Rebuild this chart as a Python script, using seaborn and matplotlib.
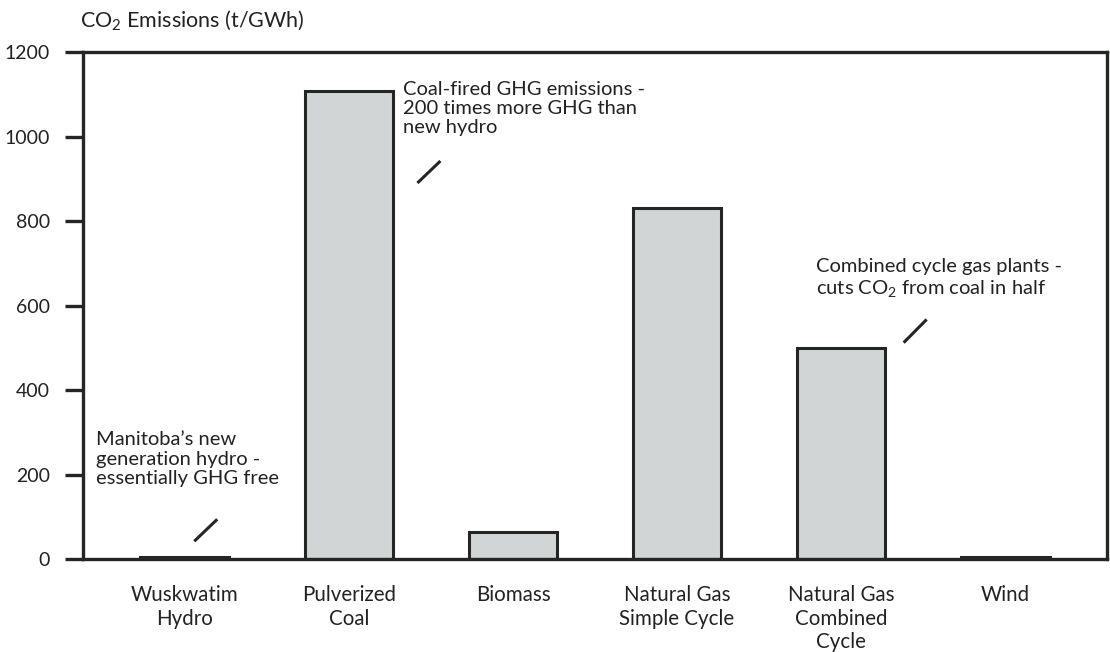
import matplotlib
matplotlib.use("Agg")
import matplotlib.pyplot as plt
import seaborn as sns
import pandas as pd

categories = ["Wuskwatim\nHydro", "Pulverized\nCoal", "Biomass",
              "Natural Gas\nSimple Cycle", "Natural Gas\nCombined\nCycle", "Wind"]
emissions = [5, 1108, 63, 831, 500, 5]
y_ticks = [0, 200, 400, 600, 800, 1000, 1200]

sns.set_theme(style="white")
plt.rcParams["font.family"] = ["Lato", "DejaVu Sans"]
plt.rcParams["mathtext.fontset"] = "custom"
plt.rcParams["mathtext.rm"] = "Lato"

TXT = "#222222"
EDGE = "#242624"
FILL = "#d1d5d6"

df = pd.DataFrame({"cat": categories, "val": emissions})

fig = plt.figure(figsize=(11.10, 6.52), dpi=100)
ax = fig.add_axes([83/1110, 1 - 559/652, (1107 - 83)/1110, (559 - 52)/652])

sns.barplot(data=df, x="cat", y="val", ax=ax, color=FILL, width=0.54,
            edgecolor=EDGE, linewidth=2.2, saturation=1)

ax.set_xlim(-0.62, 5.62)
ax.set_ylim(0, 1200)
ax.set_yticks(y_ticks)
ax.set_yticklabels([str(t) for t in y_ticks])
ax.set_xlabel("")
ax.set_ylabel("")

for s in ax.spines.values():
    s.set_visible(True)
    s.set_color(EDGE)
    s.set_linewidth(2.4)

ax.tick_params(axis="y", length=13, width=2.4, color=EDGE, pad=11,
               labelsize=14, labelcolor=TXT, left=True)
ax.tick_params(axis="x", length=0, pad=19, labelsize=14.8, labelcolor=TXT)
for lab in ax.get_xticklabels():
    lab.set_ha("center")
    lab.set_linespacing(1.22)

# y-axis title
fig.text(80/1110, 1 - 20/652, "CO$\\mathregular{_2}$ Emissions (t/GWh)",
         fontsize=15.5, color=TXT, va="center", ha="left")

# annotations
fs = 14.5
ls = 1.17
ax.text(-0.54, 302, "Manitoba\u2019s new\ngeneration hydro -\nessentially GHG free",
        fontsize=fs, color=TXT, va="top", ha="left", linespacing=ls)
ax.plot([0.058, 0.198], [42, 94], color=EDGE, lw=2.2, solid_capstyle="butt")

ax.text(1.332, 1132, "Coal-fired GHG emissions -\n200 times more GHG than\nnew hydro",
        fontsize=fs, color=TXT, va="top", ha="left", linespacing=ls)
ax.plot([1.418, 1.558], [890, 942], color=EDGE, lw=2.2, solid_capstyle="butt")

ax.text(3.845, 712, "Combined cycle gas plants -\ncuts CO$\\mathregular{_2}$ from coal in half",
        fontsize=fs, color=TXT, va="top", ha="left", linespacing=ls)
ax.plot([4.381, 4.521], [512, 567], color=EDGE, lw=2.2, solid_capstyle="butt")

fig.savefig("out.png", dpi=100)
